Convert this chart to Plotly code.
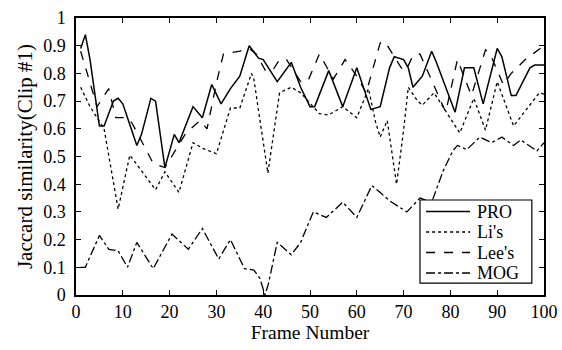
import plotly.graph_objects as go

# Jaccard similarity per frame for each method (Clip #1)
pro_frames = [1, 2, 3, 5, 6, 8, 9, 10, 13, 14, 16, 17, 19, 21, 22, 25, 27, 29, 31, 33, 35, 37, 39, 40,
              43, 46, 48, 50, 51, 54, 57, 60, 63, 65, 67, 68, 70, 71, 72, 74, 76, 77, 81, 83, 85, 87,
              90, 91, 93, 94, 97, 98, 100]
pro_values = [0.89, 0.94, 0.85, 0.61, 0.61, 0.70, 0.71, 0.69, 0.54, 0.58, 0.71, 0.70, 0.46, 0.58, 0.55,
              0.68, 0.64, 0.76, 0.69, 0.745, 0.79, 0.90, 0.855, 0.85, 0.77, 0.84, 0.75, 0.68, 0.68, 0.81,
              0.68, 0.82, 0.67, 0.68, 0.82, 0.86, 0.85, 0.82, 0.75, 0.79, 0.88, 0.84, 0.66, 0.82, 0.82,
              0.69, 0.89, 0.86, 0.72, 0.72, 0.82, 0.83, 0.83]

li_frames = [1, 3, 6, 9, 11.5, 17, 19, 22, 25, 27, 30, 32, 33, 35, 37.5, 38, 41, 43.5, 46, 48, 52, 54,
             57, 60, 62.5, 64, 65, 66.5, 68.5, 70, 71, 73, 74, 76.5, 80, 82, 85, 87.5, 90, 93.5, 99, 100]
li_values = [0.75, 0.68, 0.60, 0.31, 0.505, 0.38, 0.445, 0.37, 0.55, 0.53, 0.51, 0.62, 0.675, 0.675,
             0.80, 0.78, 0.44, 0.73, 0.75, 0.73, 0.655, 0.65, 0.68, 0.64, 0.745, 0.625, 0.57, 0.63,
             0.40, 0.595, 0.75, 0.70, 0.685, 0.73, 0.64, 0.585, 0.71, 0.595, 0.77, 0.61, 0.73, 0.725]

lee_frames = [1, 4.5, 7, 8.5, 11, 12, 16.5, 19, 23.5, 26.5, 28, 30, 31.5, 35, 37, 38.5, 40.5, 42, 43.5,
              45, 48, 49.5, 52, 55, 57.5, 60, 62, 65, 66, 69.5, 70.5, 72, 73.5, 79, 81.5, 84.5, 87.5,
              88.5, 91.3, 93, 96, 100]
lee_values = [0.88, 0.68, 0.745, 0.64, 0.64, 0.62, 0.475, 0.46, 0.585, 0.63, 0.60, 0.765, 0.87, 0.88,
              0.89, 0.87, 0.81, 0.81, 0.85, 0.85, 0.77, 0.77, 0.87, 0.78, 0.85, 0.79, 0.73, 0.91, 0.915,
              0.82, 0.81, 0.865, 0.87, 0.66, 0.85, 0.72, 0.885, 0.87, 0.76, 0.80, 0.85, 0.90]

mog_frames = [1, 2, 5, 7, 9, 11, 13, 16.5, 20.5, 24, 27, 30.5, 33, 36, 38, 39.3, 40.4, 41.1, 43, 46, 48,
              50.7, 53.5, 57, 60, 63.2, 65, 67, 70.7, 73.5, 76, 78.5, 80.5, 81.5, 83.5, 86.3, 88.8, 91,
              93.5, 95, 98.5, 100]
mog_values = [0.10, 0.10, 0.215, 0.165, 0.16, 0.10, 0.19, 0.095, 0.22, 0.165, 0.24, 0.13, 0.20, 0.095,
              0.09, 0.06, 0.0, 0.04, 0.19, 0.145, 0.19, 0.30, 0.28, 0.335, 0.28, 0.395, 0.37, 0.34, 0.30,
              0.35, 0.335, 0.45, 0.52, 0.54, 0.525, 0.57, 0.55, 0.57, 0.54, 0.56, 0.52, 0.55]

x_ticks = [0, 10, 20, 30, 40, 50, 60, 70, 80, 90, 100]
y_ticks = [0, 0.1, 0.2, 0.3, 0.4, 0.5, 0.6, 0.7, 0.8, 0.9, 1]
y_tick_text = ["0", "0.1", "0.2", "0.3", "0.4", "0.5", "0.6", "0.7", "0.8", "0.9", "1"]

serif = "Liberation Serif, Times New Roman, serif"

series = [
    ("PRO", pro_frames, pro_values, "solid", 1.5),
    ("Li's", li_frames, li_values, "dot", 1.3),
    ("Lee's", lee_frames, lee_values, "dash", 1.3),
    ("MOG", mog_frames, mog_values, "dashdot", 1.3),
]

fig = go.Figure()
for name, xs, ys, dash, w in series:
    fig.add_trace(go.Scatter(
        x=xs, y=ys, name=name, mode="lines", showlegend=False,
        line=dict(color="black", width=w, dash=dash),
    ))

# Boxed legend in the lower-right corner of the plot area
fig.add_shape(type="rect", xref="paper", yref="paper",
              x0=0.735, x1=0.974, y0=0.043, y1=0.343,
              line=dict(color="black", width=1.2), fillcolor="white", layer="above")
row_y = [0.3014, 0.2274, 0.1534, 0.0794]
for (name, _, _, dash, w), yy in zip(series, row_y):
    fig.add_shape(type="line", xref="paper", yref="paper",
                  x0=0.748, x1=0.842, y0=yy, y1=yy,
                  line=dict(color="black", width=w, dash=dash), layer="above")
    fig.add_annotation(xref="paper", yref="paper", x=0.855, y=yy,
                       xanchor="left", yanchor="middle", text=name, showarrow=False,
                       borderpad=0, font=dict(family=serif, size=18, color="black"))

axis_common = dict(
    showline=True, linecolor="black", linewidth=1.5, mirror="ticks",
    ticks="inside", ticklen=5, tickwidth=1, tickcolor="black",
    showgrid=False, zeroline=False, automargin=False,
    tickfont=dict(family=serif, size=18, color="black"),
)

fig.update_layout(
    width=562, height=350,
    margin=dict(l=76, r=18, t=18, b=55),
    paper_bgcolor="white", plot_bgcolor="white",
    font=dict(family=serif, size=18, color="black"),
    xaxis=dict(range=[0, 100], tickvals=x_ticks, ticklabelstandoff=0,
               title=dict(text="Frame Number", standoff=3, font=dict(family=serif, size=19.5)),
               **axis_common),
    yaxis=dict(range=[0, 1], tickvals=y_ticks, ticktext=y_tick_text, ticklabelstandoff=5,
               title=dict(text="Jaccard similarity(Clip #1)", standoff=5,
                          font=dict(family=serif, size=21)),
               **axis_common),
    showlegend=False,
)

fig.write_html("out.html")
